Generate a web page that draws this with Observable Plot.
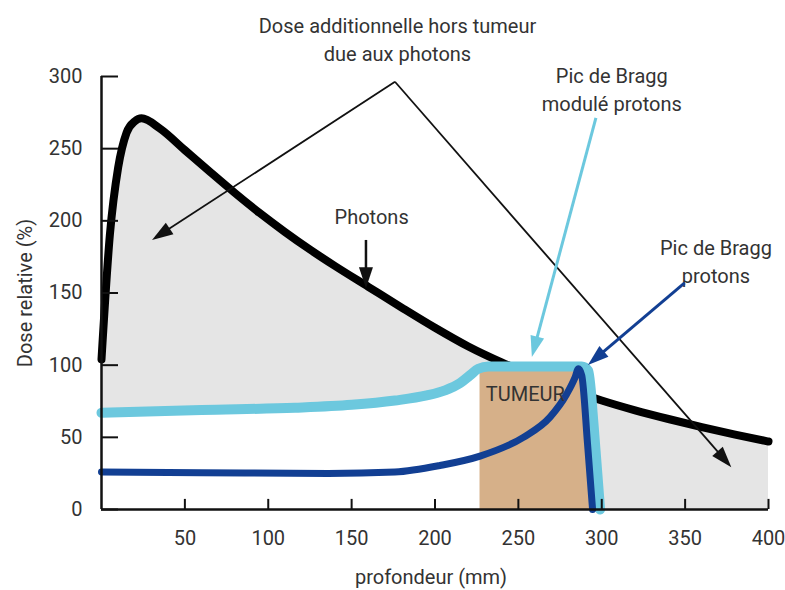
<!DOCTYPE html>
<html><head><meta charset="utf-8">
<script src="https://cdn.jsdelivr.net/npm/d3@7"></script>
<script src="https://cdn.jsdelivr.net/npm/@observablehq/plot@0.6"></script>
<style>body{margin:0;background:#fff}</style>
</head><body><div id="chart"></div>
<script>
// Photon depth-dose curve (mm, %)
const photonDepth = [0, 5, 10, 15, 20, 24, 35, 50, 65, 80, 95, 110, 125, 140, 160, 180, 200, 220, 240, 260, 280, 300, 320, 340, 360, 380, 400];
const photonDose  = [104, 190, 237, 261, 269, 271, 264, 249, 234, 219.3, 205.3, 192.3, 180.1, 168.7, 154.3, 139.9, 125.9, 112.9, 101.9, 92.3, 83.5, 75.5, 68.7, 62.7, 57.1, 51.9, 47.1];
// Spread-out (modulated) Bragg peak, protons
const sobpDepth = [0, 60, 116, 150, 176, 195, 206, 215, 221, 226, 232, 260, 288, 292, 295, 299];
const sobpDose  = [67, 69, 70.5, 72.5, 75.5, 79, 82.5, 87.5, 93, 97.5, 99, 99, 99, 96, 60, 0];
// Pristine Bragg peak, protons
const braggDepth = [0, 60, 136, 176, 203, 227, 253, 269, 279, 284, 286, 288, 291.5, 294.5];
const braggDose  = [26, 25.5, 25, 26, 30.5, 37, 50, 64, 80, 91.5, 97.5, 93, 45, 0];
// Tumour extent
const tumorStart = 227, tumorEnd = 294, tumorDose = 97;
// Ticks
const xTicks = [50, 100, 150, 200, 250, 300, 350, 400];
const yTicks = [0, 50, 100, 150, 200, 250, 300];
// Annotations (data coordinates)
const labelText  = ["Dose additionnelle hors tumeur\ndue aux photons", "Pic de Bragg\nmodulé protons", "Photons", "Pic de Bragg\nprotons", "TUMEUR"];
const labelDepth = [177.5, 306, 162, 368.5, 254.2];
const labelDose  = [326.5, 292, 204, 173, 81.1];
const arrowX1 = [176.3, 176.3, 158.9, 296.8, 350];
const arrowY1 = [296, 296, 186.4, 271, 156.6];
const arrowX2 = [30.6, 378, 158.9, 258.4, 292];
const arrowY2 = [186.4, 29, 153, 105.3, 99.8];
const arrowColor = ["#111", "#111", "#111", "#6cc8de", "#123f93"];
const arrowWidth = [1.8, 1.8, 2.5, 3, 3];

const photons = photonDepth.map((x, i) => ({x, y: photonDose[i]}));
const sobp = sobpDepth.map((x, i) => ({x, y: sobpDose[i]}));
const bragg = braggDepth.map((x, i) => ({x, y: braggDose[i]}));
const labels = labelText.map((t, i) => ({t, x: labelDepth[i], y: labelDose[i]}));
const arrows = arrowX1.map((x1, i) => ({x1, y1: arrowY1[i], x2: arrowX2[i], y2: arrowY2[i], color: arrowColor[i], w: arrowWidth[i]}));

function arrowMark(data) {
  return (index, scales) => {
    const g = d3.create("svg:g");
    for (const a of data) {
      const x1 = scales.x(a.x1), y1 = scales.y(a.y1), x2 = scales.x(a.x2), y2 = scales.y(a.y2);
      const ang = Math.atan2(y2 - y1, x2 - x1);
      const L = 21, W = 14;
      const bx = x2 - L * Math.cos(ang), by = y2 - L * Math.sin(ang);
      g.append("line").attr("x1", x1).attr("y1", y1).attr("x2", bx + 2 * Math.cos(ang)).attr("y2", by + 2 * Math.sin(ang))
        .attr("stroke", a.color).attr("stroke-width", a.w);
      const px = -Math.sin(ang) * W / 2, py = Math.cos(ang) * W / 2;
      g.append("path").attr("d", `M${x2},${y2}L${bx + px},${by + py}L${bx - px},${by - py}Z`).attr("fill", a.color);
    }
    return g.node();
  };
}

const curve = "monotone-x";
const chart = Plot.plot({
  width: 785, height: 590,
  marginLeft: 101, marginRight: 17, marginTop: 76, marginBottom: 81,
  style: {fontFamily: "Roboto, sans-serif", fontSize: "20px", color: "#333", background: "white", overflow: "visible"},
  x: {domain: [0, 400]},
  y: {domain: [0, 300]},
  marks: [
    Plot.areaY(photons, {x: "x", y: "y", fill: "#e5e5e5", curve}),
    Plot.lineY(photons, {x: "x", y: "y", stroke: "#000", strokeWidth: 8, curve}),
    Plot.areaY(sobp, {x: "x", y: "y", fill: "white", curve}),
    Plot.rectY([{x1: tumorStart, x2: tumorEnd, y: tumorDose}], {x1: "x1", x2: "x2", y1: 0, y2: "y", fill: "#d6b089"}),
    Plot.lineY(sobp, {x: "x", y: "y", stroke: "#6cc8de", strokeWidth: 10, curve}),
    Plot.lineY(bragg, {x: "x", y: "y", stroke: "#123f93", strokeWidth: 7, curve}),
    Plot.ruleX([0], {y1: 0, y2: 300, stroke: "#111", strokeWidth: 2.5}),
    Plot.ruleY([0], {x1: 0, x2: 400, stroke: "#111", strokeWidth: 2.5}),
    Plot.ruleY(yTicks, {x1: 0, x2: 10.2, stroke: "#111", strokeWidth: 2}),
    Plot.ruleX(xTicks, {y1: 0, y2: 7, stroke: "#111", strokeWidth: 2}),
    Plot.axisY({ticks: yTicks, tickSize: 0, tickPadding: 19, label: null, fontSize: 20, fill: "#333"}),
    Plot.axisX({ticks: xTicks, tickSize: 0, tickPadding: 21, label: null, fontSize: 20, fill: "#333"}),
    Plot.text(["Dose relative (%)"], {frameAnchor: "left", textAnchor: "middle", lineAnchor: "middle", dx: -76, rotate: -90, fontSize: 20, fill: "#333"}),
    Plot.text(["profondeur (mm)"], {frameAnchor: "bottom", textAnchor: "middle", lineAnchor: "middle", dy: 68, dx: -4, fontSize: 20, fill: "#333"}),
    Plot.text(labels, {x: "x", y: "y", text: "t", fontSize: 20, lineHeight: 1.4, fill: "#333"}),
    arrowMark(arrows)
  ]
});
document.getElementById("chart").appendChild(chart);
</script>
</body></html>
